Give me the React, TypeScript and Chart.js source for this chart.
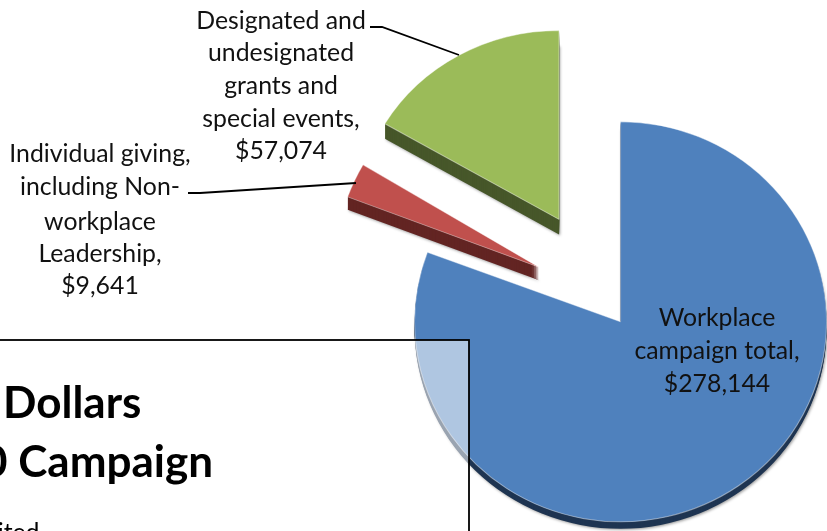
import React, { useEffect, useRef } from "react";
import { Chart, registerables } from "chart.js";

Chart.register(...registerables);

const categories = [
  "Workplace campaign total",
  "Individual giving, including Non-workplace Leadership",
  "Designated and undesignated grants and special events",
];
const dollars = [278144, 9641, 57074];
const faceColors = ["#4F81BD", "#C0504D", "#9BBB59"];
const wallColors = ["#1F3552", "#632523", "#47572A"];
const explode = [29, 72, 90.5];
const depth = [7, 13, 15];
const stretchX = [1.03, 1.02, 1.01];
const stretchY = [1, 1.01, 0.945];

const labelLines = [
  ["Workplace", "campaign total,", "$278,144"],
  ["Individual giving,", "including Non-", "workplace", "Leadership,", "$9,641"],
  ["Designated and", "undesignated", "grants and", "special events,", "$57,074"],
];
const labelSpots = [
  { x: 717, ys: [318, 351, 384] },
  { x: 100, ys: [154, 187, 222, 254, 286] },
  { x: 281, ys: [21, 53, 86, 119, 151] },
];
const leaders = [
  [[370, 27], [382, 27], [459, 55]],
  [[188, 193], [200, 193], [356, 183]],
];

const explodedPie = {
  id: "explodedPie",
  beforeDatasetDraw(chart: any) {
    const ctx = chart.ctx;
    const arcs = chart.getDatasetMeta(0).data;
    arcs.forEach((arc: any, i: number) => {
      const mid = (arc.startAngle + arc.endAngle) / 2;
      const ax = arc.x + Math.cos(mid) * explode[i];
      const ay = arc.y + Math.sin(mid) * explode[i];
      ctx.save();
      ctx.translate(ax, ay);
      const wall = (d: number) => {
        ctx.save();
        ctx.translate(0, d);
        ctx.scale(stretchX[i], stretchY[i]);
        ctx.beginPath();
        ctx.moveTo(0, 0);
        ctx.arc(0, 0, arc.outerRadius, arc.startAngle, arc.endAngle);
        ctx.closePath();
        ctx.fillStyle = wallColors[i];
        ctx.fill();
        ctx.restore();
      };
      ctx.save();
      ctx.shadowColor = "rgba(0,0,0,0.4)";
      ctx.shadowBlur = 3;
      ctx.shadowOffsetX = 1;
      ctx.shadowOffsetY = 1;
      wall(depth[i]);
      ctx.restore();
      for (let d = depth[i] - 1; d > 0; d--) wall(d);
      ctx.scale(stretchX[i], stretchY[i]);
      ctx.translate(-arc.x, -arc.y);
      arc.draw(ctx);
      ctx.restore();
    });
    return false;
  },
  afterDraw(chart: any) {
    const ctx = chart.ctx;
    ctx.save();
    ctx.strokeStyle = "#000";
    ctx.lineWidth = 1.8;
    leaders.forEach((pts) => {
      ctx.beginPath();
      pts.forEach(([x, y], k) => (k ? ctx.lineTo(x, y) : ctx.moveTo(x, y)));
      ctx.stroke();
    });
    ctx.fillStyle = "#111";
    ctx.font = "24.8px Lato";
    ctx.textAlign = "center";
    ctx.textBaseline = "middle";
    labelLines.forEach((lines, i) => {
      lines.forEach((t, k) => ctx.fillText(t, labelSpots[i].x, labelSpots[i].ys[k]));
    });

    ctx.fillStyle = "rgba(255,255,255,0.55)";
    ctx.fillRect(-5, 340, 474, 200);
    ctx.strokeRect(-5, 340, 474, 200);
    ctx.fillStyle = "#000";
    ctx.textAlign = "left";
    ctx.textBaseline = "alphabetic";
    ctx.font = "bold 44px Lato";
    ctx.fillText("Dollars", 3, 418);
    ctx.fillText("0 Campaign", -18, 477);
    ctx.font = "24.8px Lato";
    ctx.fillText("United", -34, 541);
    ctx.restore();
  },
};

export default function App() {
  const ref = useRef<HTMLCanvasElement>(null);
  useEffect(() => {
    document.body.style.margin = "0";
    const chart = new Chart(ref.current!, {
      type: "pie",
      data: {
        labels: categories,
        datasets: [
          {
            data: dollars,
            backgroundColor: faceColors,
            borderColor: "rgba(255,255,255,0.45)",
            borderWidth: 1,
            clip: false,
          } as any,
        ],
      },
      options: {
        responsive: false,
        animation: false,
        radius: 200,
        layout: { padding: { left: 381, top: 65, right: 0, bottom: 0 } },
        plugins: { legend: { display: false }, tooltip: { enabled: false } },
      } as any,
      plugins: [explodedPie],
    });
    return () => chart.destroy();
  }, []);
  return (
    <canvas
      ref={ref}
      width={827}
      height={531}
      style={{ position: "fixed", left: 0, top: 0, display: "block" }}
    />
  );
}
